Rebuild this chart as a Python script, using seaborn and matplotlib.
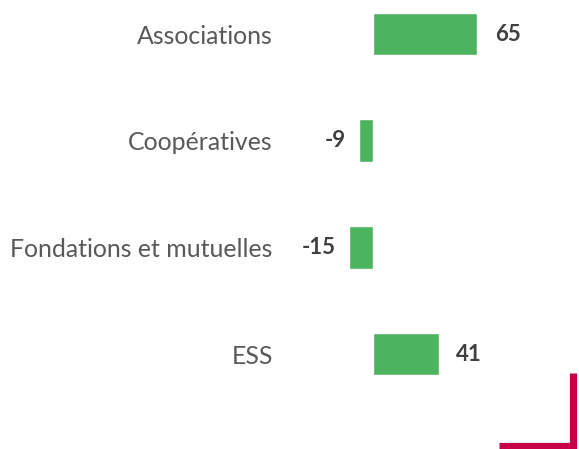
import matplotlib
matplotlib.use("Agg")
import matplotlib.pyplot as plt
import pandas as pd
import seaborn as sns
from matplotlib.lines import Line2D

categories = ["Associations", "Coopératives", "Fondations et mutuelles", "ESS"]
values = [65, -9, -15, 41]

df = pd.DataFrame({"cat": categories, "val": values})

sns.set_style("white")
plt.rcParams["font.family"] = ["Lato", "DejaVu Sans"]

fig = plt.figure(figsize=(5.79, 4.49), dpi=100)
ax = fig.add_axes([290 / 579, 0, 289 / 579, 1])

sns.barplot(data=df, x="val", y="cat", orient="h", color="#4CB35E",
            saturation=1, width=0.4, ax=ax)

ax.set_xlim(-51.9, 128.7)
ax.set_ylim(3.89, -0.319)
ax.set_xlabel("")
ax.set_ylabel("")
ax.set_xticks([])
ax.tick_params(axis="y", length=0, pad=12.5, labelsize=17.9, labelcolor="#595959")
for s in ax.spines.values():
    s.set_visible(False)

for i, v in enumerate(values):
    if v >= 0:
        ax.text(v + 11, i, str(v), ha="left", va="center",
                fontsize=16, fontweight="bold", color="#404040")
    else:
        ax.text(v - 8, i, str(v), ha="right", va="center",
                fontsize=16, fontweight="bold", color="#404040")

# decorative red corner
red = "#C8004A"
fig.add_artist(Line2D([572.5 / 579, 572.5 / 579], [1 - 373 / 449, 0],
                      color=red, linewidth=5.2, solid_capstyle="butt"))
fig.add_artist(Line2D([499 / 579, 576 / 579], [1 - 445.5 / 449, 1 - 445.5 / 449],
                      color=red, linewidth=5.2, solid_capstyle="butt"))

fig.savefig("out.png", dpi=100)
